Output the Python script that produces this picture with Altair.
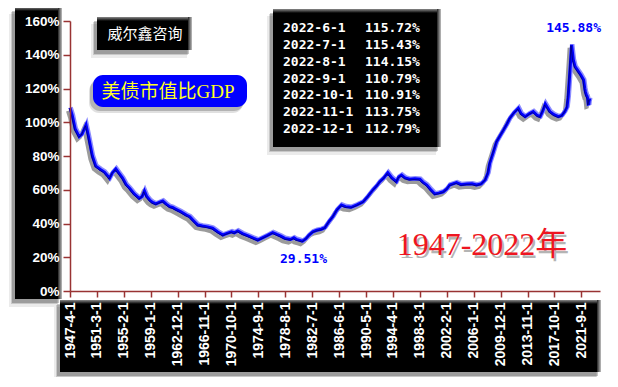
import altair as alt
import pandas as pd

# ---------------- data ----------------
dates = ["1947-4","1947-8","1948-1","1948-8","1949-1","1949-8","1949-12","1950-7","1951-1","1951-9",
         "1952-4","1952-9","1953-1","1953-6","1953-12","1954-6","1954-12","1955-6","1955-12","1956-8",
         "1957-5","1957-10","1958-2","1958-6","1958-11","1959-4","1959-10","1960-4","1960-10","1961-4",
         "1961-10","1962-3","1962-9","1963-5","1964-3","1964-9","1965-4","1965-11","1966-7","1967-4",
         "1968-1","1968-10","1969-7","1970-1","1970-10","1971-3","1971-9","1972-5","1973-3","1973-11",
         "1974-8","1975-4","1976-1","1976-10","1977-5","1977-12","1978-7","1979-5","1979-11","1980-3",
         "1980-9","1981-2","1981-8","1982-1","1982-8","1983-3","1983-11","1984-5","1985-1","1985-7",
         "1986-2","1986-10","1987-5","1988-3","1989-1","1989-12","1990-8","1991-5","1991-12","1992-5",
         "1992-12","1993-7","1994-2","1994-10","1995-2","1995-7","1996-1","1996-9","1997-6","1998-3",
         "1998-8","1999-3","1999-10","2000-5","2000-12","2001-8","2002-2","2002-7","2003-7","2004-3",
         "2005-1","2005-10","2006-6","2007-2","2007-9","2008-2","2008-5","2008-11","2009-5","2009-11",
         "2010-5","2010-11","2011-4","2011-11","2012-7","2012-12","2013-7","2014-2","2014-9","2015-4",
         "2015-9","2016-2","2016-6","2016-11","2017-2","2017-9","2018-5","2018-11","2019-4","2019-8",
         "2019-10","2020-1","2020-4","2020-7","2020-10","2021-4","2021-8","2022-1","2022-3","2022-4",
         "2022-5","2022-6","2022-7","2022-8","2022-9","2022-10","2022-11","2022-12"]
values = [108.5,104,96,91.5,93,98.4,92,80,74,72,
          70.5,68.5,66.8,70,72.3,69.5,66.8,63,60.9,57.5,
          54.9,56,59.3,56,53.9,52.5,51.6,52.5,53.3,51.5,
          50,49.5,48.4,47,45,44,41.5,39.1,38.5,38,
          37.2,35,33.2,34,35.1,34.5,35.6,34,32.6,31.5,
          30.2,31.5,33,34.6,33.5,32.5,31.2,30.5,31.5,30.6,
          30,29.51,31,33,35.1,36,36.6,37.5,41.5,44,
          48,51,50,49.6,51,52.9,56,59.9,62.5,64.8,
          67,70.1,67,64.8,67.5,68.7,67,66.2,66.5,66.2,
          64.5,62.8,60,57.5,58,58.8,60.5,62.8,64.2,63,
          63.4,63.5,62.8,63.5,65.8,70,75.7,82,88.5,92,
          95.4,99,102.3,105.5,108.3,105,103.3,105,106.3,104,
          103.3,107,110.8,108,106.3,104.5,103.3,104,106.3,109,
          115.1,130,145.88,136.9,133,130,128,125,120,118,
          117,115.72,115.43,114.15,110.79,110.91,113.75,112.79]

table_dates = ["2022-6-1","2022-7-1","2022-8-1","2022-9-1","2022-10-1","2022-11-1","2022-12-1"]
table_values = [115.72,115.43,114.15,110.79,110.91,113.75,112.79]

x_tick_dates = ["1947-4-1","1951-3-1","1955-2-1","1959-1-1","1962-12-1","1966-11-1","1970-10-1",
                "1974-9-1","1978-8-1","1982-7-1","1986-6-1","1990-5-1","1994-4-1","1998-3-1",
                "2002-2-1","2006-1-1","2009-12-1","2013-11-1","2017-10-1","2021-9-1"]
y_ticks = [0, 20, 40, 60, 80, 100, 120, 140, 160]

brand_text = "威尔鑫咨询"
title_text = "美债市值比GDP"
period_text = "1947-2022年"

# ---------------- helpers ----------------
def midx(s):
    p = s.split("-")
    return (int(p[0]) - 1947) * 12 + int(p[1]) - 4

df = pd.DataFrame({"m": [midx(d) for d in dates], "v": values})
tick_m = [midx(d) for d in x_tick_dates]
label_arr = "[" + ",".join("'" + d + "'" for d in x_tick_dates) + "]"

W, H = 530, 270
OX, OY = 70, 21          # page position of the plot origin
AXC = "#993333"

x_enc = alt.X("m:Q", scale=alt.Scale(domain=[0, 925.6], nice=False, zero=False),
              axis=alt.Axis(values=tick_m, labelExpr=label_arr + "[round(datum.value/47)]",
                            labelAngle=270, labelColor="white", labelFont="Liberation Sans",
                            labelFontWeight="bold", labelFontSize=14, labelPadding=5,
                            labelOverlap=False, labelFlush=False, labelBound=False,
                            domainColor=AXC, domainWidth=1.5, tickColor=AXC, tickSize=6,
                            tickWidth=1.5, grid=False, title=None, zindex=1))
y_enc = alt.Y("v:Q", scale=alt.Scale(domain=[0, 160], nice=False),
              axis=alt.Axis(values=y_ticks, labelExpr="datum.value + '%'", labelColor="white",
                            labelFont="Liberation Sans", labelFontWeight="bold", labelFontSize=13.5,
                            labelPadding=4, domainColor=AXC, domainWidth=1.5, tickColor=AXC,
                            tickSize=7, tickWidth=1.5, grid=False, title=None, zindex=1))

one = pd.DataFrame({"k": [0]})


def rect(x1, y1, x2, y2, **mk):
    return alt.Chart(one).mark_rect(**mk).encode(
        x=alt.value(x1 - OX), x2=alt.value(x2 - OX),
        y=alt.value(y1 - OY), y2=alt.value(y2 - OY))


def grad(c1, c2, horizontal):
    return alt.LinearGradient(gradient="linear",
                              stops=[alt.GradientStop(color=c1, offset=0),
                                     alt.GradientStop(color=c2, offset=1)],
                              x1=0, y1=0, x2=1 if horizontal else 0, y2=0 if horizontal else 1)


def panel(x1, y1, x2, y2):
    ls = []
    for dx, dy, g, op in [(-5, 7, 1, 0.08), (-4, 5, 0, 0.15), (-3, 4, 0, 0.22)]:
        ls.append(rect(x1 + dx - g, y1 + dy, x2 + dx, y2 + dy + g, color="black", opacity=op))
    ls.append(rect(x1, y1, x2, y2, color="black"))
    ls.append(rect(x1, y1, x2, y1 + 4, color=grad("#8a8a8a", "#000000", False)))
    ls.append(rect(x2 - 4, y1, x2, y2, color=grad("#222222", "#c0c0c0", True)))
    return ls


def text_at(x, y, t, **mk):
    return alt.Chart(one).mark_text(text=t, **mk).encode(x=alt.value(x - OX), y=alt.value(y - OY))


layers = []
layers += panel(15, 7, 62, 299)        # y-axis label panel
layers += panel(60, 300, 601, 372)     # x-axis label panel
layers += panel(97, 17, 192, 50)       # brand box
layers += panel(273, 9, 441, 147)      # table box

# blue title box
for dx, dy, op in [(-4, 6, 0.12), (-3, 4, 0.2)]:
    layers.append(rect(93 + dx, 75 + dy, 247 + dx, 107 + dy, color="black", opacity=op, cornerRadius=10))
layers.append(rect(93, 75, 247, 107, color="#0000FF", cornerRadius=10))
layers.append(text_at(168, 92, title_text, color="#FFFF22", fontSize=19,
                      font="Liberation Serif, Noto Sans CJK SC", align="center", baseline="middle"))

layers.append(text_at(145, 34, brand_text, color="white", fontSize=15,
                      font="Noto Sans CJK SC", align="center", baseline="middle"))

for i, (d, v) in enumerate(zip(table_dates, table_values)):
    yy = 28 + 16.85 * i
    layers.append(text_at(283, yy, d, color="white", fontSize=13, font="DejaVu Sans Mono",
                          fontWeight="bold", align="left", baseline="middle"))
    layers.append(text_at(365, yy, f"{v:.2f}%", color="white", fontSize=13, font="DejaVu Sans Mono",
                          fontWeight="bold", align="left", baseline="middle"))

# period text with shadow
layers.append(text_at(484, 248, period_text, color="#777777", opacity=0.55, fontSize=32,
                      font="Liberation Serif, Noto Sans CJK SC", align="center", baseline="middle"))
layers.append(text_at(482, 245, period_text, color="#EE1520", fontSize=32,
                      font="Liberation Serif, Noto Sans CJK SC", align="center", baseline="middle"))

# the series line
base = alt.Chart(df).encode(x=x_enc, y=y_enc)
layers.append(base.mark_line(color="#222222", opacity=0.45, strokeWidth=4, xOffset=-2, yOffset=3))
layers.append(base.mark_line(color="#8c8cff", strokeWidth=4.5, xOffset=0.6, yOffset=-0.6))
layers.append(base.mark_line(color="#0000FF", strokeWidth=3))
layers.append(base.mark_line(color="#000040", strokeWidth=1, opacity=0.6, xOffset=-0.6, yOffset=0.8))

# peak / trough labels
peak = df.loc[[df["v"].idxmax()]].assign(lab=lambda d: d["v"].map(lambda v: f"{v:.2f}%"))
trough = df.loc[[df["v"].idxmin()]].assign(lab=lambda d: d["v"].map(lambda v: f"{v:.2f}%"))
layers.append(alt.Chart(peak).mark_text(color="#0000FF", fontSize=13, font="DejaVu Sans Mono",
                                        fontWeight="bold", dx=2, dy=-17)
              .encode(x=x_enc, y=y_enc, text="lab:N"))
layers.append(alt.Chart(trough).mark_text(color="#0000FF", fontSize=13, font="DejaVu Sans Mono",
                                          fontWeight="bold", dx=1, dy=18)
              .encode(x=x_enc, y=y_enc, text="lab:N"))

chart = alt.layer(*layers).properties(
    width=W, height=H,
    padding={"left": OX - 8, "top": OY - 8, "right": 10, "bottom": 86},
    autosize=alt.AutoSizeParams(type="none"),
    background="white",
).configure_view(strokeWidth=0)

chart.save("out.html", embed_options={"renderer": "svg", "actions": False})
